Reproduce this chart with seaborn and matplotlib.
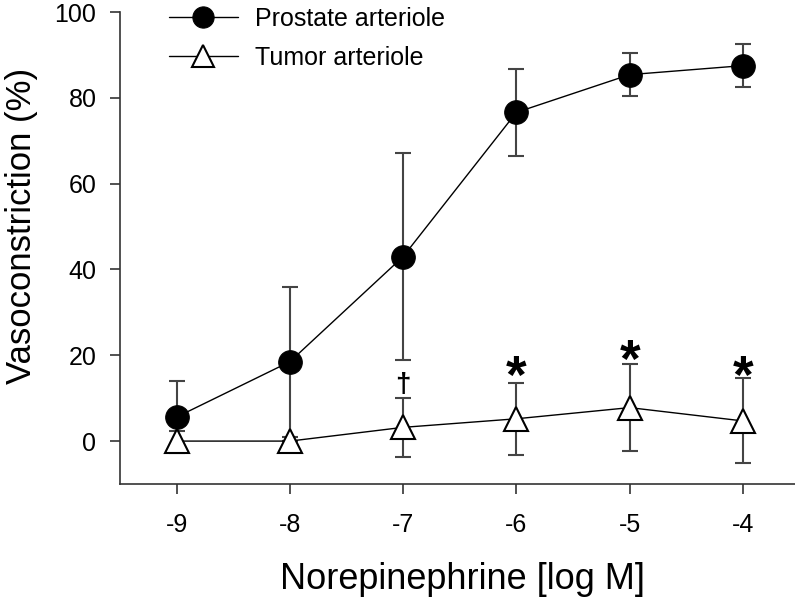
import numpy as np
import pandas as pd
import matplotlib
matplotlib.use("Agg")
import matplotlib.pyplot as plt
import seaborn as sns

sns.set_style("ticks")
plt.rcParams['font.family'] = ['Liberation Sans', 'DejaVu Sans']
plt.rcParams['axes.unicode_minus'] = False
plt.rcParams['text.color'] = 'black'
plt.rcParams['axes.labelcolor'] = 'black'
plt.rcParams['xtick.color'] = 'black'
plt.rcParams['ytick.color'] = 'black'

# Data: mean +/- SEM
conc = [-9, -8, -7, -6, -5, -4]
prostate_mean = [5.6, 18.5, 43.0, 76.6, 85.4, 87.5]
prostate_sem = [8.4, 17.5, 24.2, 10.1, 5.0, 5.0]
tumor_mean = [0.0, 0.0, 3.2, 5.2, 7.8, 4.7]
tumor_sem = [2.3, 0.0, 6.9, 8.4, 10.2, 9.9]

# significance marks above the tumor error bars
mark_x = [-7, -6, -5, -4]
mark_y = [13.0, 14.5, 18.2, 14.5]
mark_txt = ['\u2020', '*', '*', '*']

df_p = pd.DataFrame({'conc': conc, 'mean': prostate_mean, 'sem': prostate_sem})
df_t = pd.DataFrame({'conc': conc, 'mean': tumor_mean, 'sem': tumor_sem})

fig = plt.figure(figsize=(7.95, 6.04), dpi=100)
ax = fig.add_axes([120 / 795, 1 - 484 / 604, 675 / 795, 472 / 604])

#Error bars first so markers sit on top
ax.errorbar(df_p['conc'], df_p['mean'], yerr=df_p['sem'], fmt='none',
            ecolor='#444444', elinewidth=1.5, capsize=5.5, capthick=1.5, zorder=1)
ax.errorbar(df_t['conc'], df_t['mean'], yerr=df_t['sem'], fmt='none',
            ecolor='#444444', elinewidth=1.5, capsize=5.5, capthick=1.5, zorder=1)

sns.lineplot(data=df_p, x='conc', y='mean', ax=ax, color='black', lw=1,
             marker='o', markersize=17, markerfacecolor='black',
             markeredgecolor='black', label='Prostate arteriole', zorder=2)
sns.lineplot(data=df_t, x='conc', y='mean', ax=ax, color='black', lw=1,
             marker='^', markersize=17, markerfacecolor='white',
             markeredgecolor='black', markeredgewidth=1.5,
             label='Tumor arteriole', zorder=3)

for x, y, t in zip(mark_x, mark_y, mark_txt):
    if t == '*':
        ax.text(x, y, t, ha='center', va='center', fontsize=38, fontweight='bold')
    else:
        ax.text(x, y, t, ha='center', va='center', fontsize=20, fontweight='bold')

ax.set_xlim(-9.5, -3.54)
ax.set_ylim(-10, 100)
ax.set_xticks(conc)
ax.set_yticks([0, 20, 40, 60, 80, 100])
ax.tick_params(axis='both', labelsize=18, length=7, width=1.2, color='#333333')
ax.tick_params(axis='y', pad=10)
ax.tick_params(axis='x', pad=14)
for s in ['left', 'bottom']:
    ax.spines[s].set_linewidth(1.2)
    ax.spines[s].set_color('#333333')
sns.despine(ax=ax)

ax.set_xlabel('Norepinephrine [log M]', fontsize=26)
ax.set_ylabel('Vasoconstriction (%)', fontsize=25)
ax.xaxis.set_label_coords(0.508, -0.165)
ax.yaxis.set_label_coords(-0.122, 0.547)

leg = ax.legend(loc='upper left', bbox_to_anchor=(169 / 795, 1 - 7 / 604),
                bbox_transform=fig.transFigure, frameon=False, fontsize=18,
                handlelength=2.75, handletextpad=0.7, borderpad=0,
                borderaxespad=0, labelspacing=0.6, markerscale=0.9)

fig.savefig('out.png', dpi=100)
